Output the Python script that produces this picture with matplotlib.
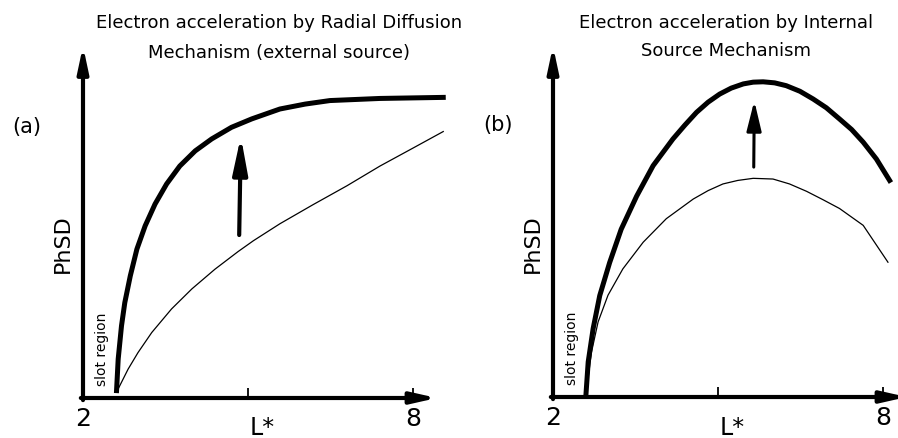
import matplotlib.pyplot as plt

# ---- panel (a): radial diffusion, external source ----
a_L_before = [2.64, 2.82, 3.00, 3.25, 3.61, 3.98, 4.40, 4.82, 5.10, 5.58, 6.18, 6.80, 7.40, 8.00, 8.55]
a_psd_before = [0.026, 0.082, 0.129, 0.186, 0.253, 0.310, 0.366, 0.416, 0.447, 0.495, 0.549, 0.603,
                0.659, 0.710, 0.757]
a_L_after = [2.61, 2.64, 2.70, 2.76, 2.86, 2.98, 3.13, 3.31, 3.52, 3.76, 4.04, 4.34, 4.70, 5.07,
             5.58, 6.04, 6.49, 7.40, 8.55]
a_psd_after = [0.021, 0.111, 0.205, 0.271, 0.347, 0.423, 0.489, 0.551, 0.608, 0.659, 0.702, 0.736,
               0.769, 0.793, 0.821, 0.835, 0.845, 0.851, 0.854]
a_arrow_L = [4.84, 4.87]
a_arrow_psd = [0.463, 0.743]

# ---- panel (b): internal source ----
b_L_before = [2.60, 2.62, 2.70, 2.82, 3.00, 3.27, 3.64, 4.06, 4.55, 4.82, 5.09, 5.36, 5.64, 6.00,
              6.30, 6.61, 6.91, 7.21, 7.64, 8.09]
b_psd_before = [0.010, 0.033, 0.128, 0.214, 0.290, 0.365, 0.441, 0.508, 0.564, 0.588, 0.607, 0.617,
                0.623, 0.621, 0.607, 0.586, 0.562, 0.537, 0.489, 0.384]
b_L_after = [2.60, 2.64, 2.73, 2.85, 3.03, 3.24, 3.52, 3.82, 4.18, 4.40, 4.61, 4.82, 5.03, 5.24,
             5.46, 5.64, 5.82, 6.03, 6.24, 6.49, 6.73, 6.97, 7.21, 7.43, 7.64, 7.88, 8.12]
b_psd_after = [0.009, 0.100, 0.195, 0.289, 0.383, 0.478, 0.572, 0.659, 0.735, 0.775, 0.811, 0.840,
               0.863, 0.880, 0.892, 0.897, 0.898, 0.895, 0.887, 0.871, 0.849, 0.824, 0.792, 0.762,
               0.726, 0.678, 0.617]
b_arrow_L = [5.65, 5.66]
b_arrow_psd = [0.655, 0.844]

tick_values = [2, 5, 8]
tick_labels = ["2", "", "8"]

W, H = 898, 439
fig = plt.figure(figsize=(W / 100, H / 100), dpi=100)


def add_px_axes(left, bottom, width, height):
    # place an axes by pixel position (origin top-left)
    return fig.add_axes([left / W, (H - bottom) / H, width / W, height / H])


def draw_panel(ax, L_before, psd_before, L_after, psd_after, arrow_L, arrow_psd,
               arrow_lw, arrow_head):
    ax.set_xlim(2, 8.6)
    ax.set_ylim(0, 1)
    for s in ax.spines.values():
        s.set_visible(False)
    ax.set_yticks([])
    ax.set_xticks(tick_values, tick_labels)
    ax.tick_params(axis="x", direction="in", length=7, width=1.3, pad=5.5,
                   labelsize=18)

    # axis arrows
    ax.annotate("", xy=(0.975, 0), xytext=(-0.006, 0), xycoords="axes fraction",
                textcoords="axes fraction", annotation_clip=False,
                arrowprops=dict(arrowstyle="-|>,head_length=0.75,head_width=0.17",
                                lw=3, color="black", shrinkA=0, shrinkB=0,
                                mutation_scale=20))
    ax.annotate("", xy=(0, 1.0), xytext=(0, -0.006), xycoords="axes fraction",
                textcoords="axes fraction", annotation_clip=False,
                arrowprops=dict(arrowstyle="-|>,head_length=0.75,head_width=0.16",
                                lw=3, color="black", shrinkA=0, shrinkB=0,
                                mutation_scale=20))

    ax.plot(L_before, psd_before, color="black", lw=0.9, clip_on=False,
            solid_joinstyle="round")
    ax.plot(L_after, psd_after, color="black", lw=3.6, clip_on=False,
            solid_joinstyle="round")

    hl, hw = arrow_head
    ax.annotate("", xy=(arrow_L[1], arrow_psd[1]), xytext=(arrow_L[0], arrow_psd[0]),
                arrowprops=dict(arrowstyle=f"-|>,head_length={hl},head_width={hw}",
                                lw=arrow_lw, color="black", shrinkA=0, shrinkB=0,
                                mutation_scale=20))

    ax.text(-0.055, 0.44, "PhSD", transform=ax.transAxes, rotation=90,
            fontsize=16, ha="center", va="center")
    ax.set_xlabel("L*", fontsize=17)
    ax.text(2.35, 0.142, "slot region", rotation=90, fontsize=10,
            ha="center", va="center")


ax_a = add_px_axes(83, 399, 363, 352)
draw_panel(ax_a, a_L_before, a_psd_before, a_L_after, a_psd_after,
           a_arrow_L, a_arrow_psd, 3.0, (1.1, 0.22))
ax_a.xaxis.set_label_coords((262 - 83) / 363, (399 - 416) / 352)

ax_b = add_px_axes(553, 398, 363, 351)
draw_panel(ax_b, b_L_before, b_psd_before, b_L_after, b_psd_after,
           b_arrow_L, b_arrow_psd, 2.2, (0.9, 0.22))
ax_b.xaxis.set_label_coords((732 - 553) / 363, (398 - 416) / 351)


# titles and panel letters
def fig_text(x, y, s, **kw):
    fig.text(x / W, 1 - y / H, s, **kw)


fig_text(279, 28, "Electron acceleration by Radial Diffusion", fontsize=13,
         ha="center", va="baseline")
fig_text(279, 58, "Mechanism (external source)", fontsize=13,
         ha="center", va="baseline")
fig_text(726, 27.5, "Electron acceleration by Internal", fontsize=13,
         ha="center", va="baseline")
fig_text(726, 56, "Source Mechanism", fontsize=13, ha="center", va="baseline")
fig_text(27, 127, "(a)", fontsize=15, ha="center", va="center")
fig_text(498, 125, "(b)", fontsize=15, ha="center", va="center")

fig.savefig("out.png", dpi=100)
